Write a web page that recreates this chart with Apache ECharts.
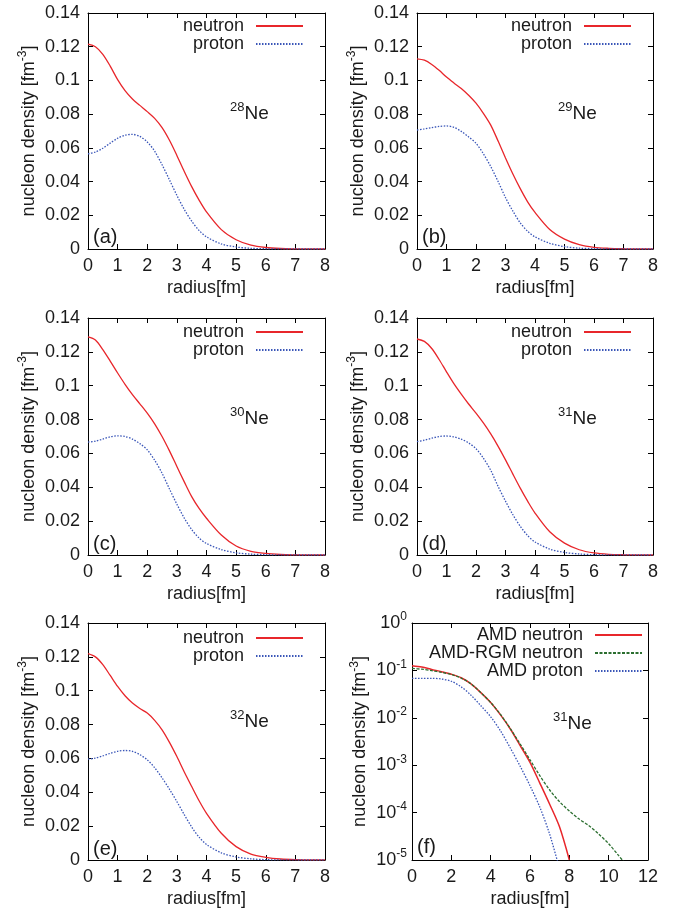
<!DOCTYPE html>
<html><head><meta charset="utf-8">
<script src="https://cdn.jsdelivr.net/npm/echarts@6/dist/echarts.min.js"></script>
<style>html,body{margin:0;padding:0;background:#fff}#c{width:687px;height:910px}</style>
</head><body><div id="c"></div>
<script>
// ---------- data ----------
const radius = [0,0.25,0.5,0.75,1,1.25,1.5,1.75,2,2.25,2.5,2.75,3,3.25,3.5,3.75,4,4.5,5,5.5,6,6.5,7,7.5,8];
const neutron28 = [0.1215,0.1200,0.1155,0.1085,0.1005,0.0940,0.0890,0.0852,0.0815,0.0775,0.0720,0.0645,0.0555,0.0460,0.0370,0.0290,0.0220,0.0115,0.0055,0.0023,0.0009,0.0003,0.0001,0.00003,0.00001];
const proton28  = [0.0565,0.0575,0.0598,0.0628,0.0657,0.0675,0.0680,0.0668,0.0635,0.0580,0.0500,0.0410,0.0318,0.0235,0.0165,0.0110,0.0072,0.0030,0.0012,0.0004,0.00015,0.00005,0.00002,0,0];
const neutron29 = [0.1128,0.1120,0.1095,0.1060,0.1020,0.0985,0.0952,0.0912,0.0865,0.0805,0.0735,0.0640,0.0540,0.0445,0.0358,0.0280,0.0217,0.0116,0.0059,0.0026,0.0010,0.0004,0.00015,0.00005,0.00002];
const proton29  = [0.0706,0.0712,0.0720,0.0727,0.0730,0.0722,0.0698,0.0665,0.0627,0.0565,0.0489,0.0400,0.0305,0.0225,0.0155,0.0105,0.0072,0.0034,0.0014,0.0005,0.0002,0.00006,0.00002,0,0];
const neutron30 = [0.1288,0.1270,0.1213,0.1145,0.1075,0.1008,0.0947,0.0893,0.0838,0.0775,0.0700,0.0615,0.0523,0.0432,0.0345,0.0275,0.0217,0.0118,0.0053,0.0022,0.0009,0.0003,0.0001,0.00003,0.00001];
const proton30  = [0.0667,0.0672,0.0685,0.0698,0.0704,0.0700,0.0685,0.0658,0.0621,0.0560,0.0483,0.0390,0.0300,0.0218,0.0150,0.0100,0.0068,0.0032,0.0013,0.0005,0.0002,0.00007,0.00002,0,0];
const neutron31 = [0.1276,0.1262,0.1220,0.1155,0.1082,0.1012,0.0950,0.0892,0.0838,0.0780,0.0715,0.0642,0.0562,0.0478,0.0395,0.0318,0.0248,0.0137,0.0070,0.0031,0.0012,0.0004,0.00015,0.00005,0.00001];
const proton31  = [0.0670,0.0678,0.0690,0.0700,0.0703,0.0698,0.0684,0.0662,0.0628,0.0572,0.0500,0.0405,0.0318,0.0238,0.0170,0.0115,0.0077,0.0035,0.0015,0.0006,0.0002,0.00008,0.00003,0.00001,0];
const neutron32 = [0.1219,0.1200,0.1154,0.1090,0.1025,0.0970,0.0927,0.0895,0.0868,0.0825,0.0769,0.0695,0.0611,0.0520,0.0434,0.0350,0.0276,0.0158,0.0079,0.0035,0.0016,0.0006,0.0002,0.00007,0.00002];
const proton32  = [0.0596,0.0602,0.0615,0.0630,0.0642,0.0647,0.0642,0.0622,0.0592,0.0545,0.0485,0.0418,0.0345,0.0268,0.0195,0.0135,0.0092,0.0042,0.0018,0.0007,0.0002,0.00007,0.00002,0,0];

// panel (f), 31Ne on a log scale
const radiusF = [0,0.5,1,1.5,2,2.5,3,3.5,4,4.5,5,5.5,6,6.5,7,7.5,8,8.5,9,9.5,10,10.5,11];
const amdNeutron = [0.126,0.118,0.105,0.094,0.083,0.070,0.052,0.034,0.021,0.0115,0.0058,0.0026,0.00115,0.00042,0.00015,0.00005,0.00001];
const rgmNeutron = [0.110,0.106,0.099,0.091,0.082,0.069,0.052,0.034,0.021,0.0118,0.0059,0.0028,0.00130,0.00060,0.00030,0.00017,0.000108,0.000073,0.000053,0.000035,0.000022,0.0000125,0.000007];
const amdProton  = [0.068,0.068,0.068,0.066,0.059,0.045,0.030,0.018,0.0105,0.0053,0.0023,0.00095,0.00037,0.00013,0.000035,0.0000065];

const isotopes = ['28','29','30','31','32','31'];
const tags = ['(a)','(b)','(c)','(d)','(e)','(f)'];
const linNames = ['neutron','proton'];
const logNames = ['AMD neutron','AMD-RGM neutron','AMD proton'];
const xLabel = 'radius[fm]';

// ---------- style / layout ----------
const FONT = '"Liberation Sans", Arial, Helvetica, sans-serif';
const TXT = '#1a1a1a';
const RED = '#e8262b', BLUE = '#3a56b8', GREEN = '#2b6e2f';
const layout = [
  {left:88, top:13, width:237, height:236, legR:383, legT:17, neX:230, neY:112, tagX:93, tagY:238},
  {left:417, top:13, width:236, height:236, legR:55, legT:17, neX:558, neY:112, tagX:422, tagY:238},
  {left:88, top:318, width:237, height:237, legR:383, legT:323, neX:230, neY:417, tagX:93, tagY:545},
  {left:417, top:318, width:236, height:237, legR:55, legT:323, neX:558, neY:417, tagX:422, tagY:545},
  {left:88, top:623, width:237, height:237, legR:383, legT:629, neX:230, neY:720, tagX:93, tagY:850},
  {left:412, top:623, width:236, height:237, legR:44, legT:626, neX:553, neY:722, tagX:417, tagY:848}
];
const linSets = [[neutron28,proton28],[neutron29,proton29],[neutron30,proton30],[neutron31,proton31],[neutron32,proton32]];

const grids = [], xAxes = [], yAxes = [], series = [], legends = [], graphics = [];
const lineAx = {show:true, onZero:false, lineStyle:{color:'#000', width:1}};
const tick = {show:true, inside:true, length:5, lineStyle:{color:'#000', width:1}};
const supRich = {s:{fontSize:12, fontFamily:FONT, color:TXT, verticalAlign:'top', lineHeight:12}};

layout.forEach((L, i) => {
  const isLog = i === 5;
  grids.push({left:L.left, top:L.top, width:L.width, height:L.height, containLabel:false});
  const xBase = {type:'value', gridIndex:i, min:0, max:isLog?12:8, interval:isLog?2:1, splitLine:{show:false}, axisLine:lineAx, axisTick:tick};
  xAxes.push(Object.assign({}, xBase, {position:'bottom',
    axisLabel:{color:TXT, fontSize:18, fontFamily:FONT, margin:8},
    name:xLabel, nameLocation:'middle', nameGap:30,
    nameTextStyle:{color:TXT, fontSize:18, fontFamily:FONT}}));
  xAxes.push(Object.assign({}, xBase, {position:'top', axisLabel:{show:false}}));
  const yBase = isLog
    ? {type:'log', logBase:10, gridIndex:i, min:0.00001, max:1, splitLine:{show:false}, axisLine:lineAx, axisTick:tick, minorTick:{show:false}}
    : {type:'value', gridIndex:i, min:0, max:0.14, interval:0.02, splitLine:{show:false}, axisLine:lineAx, axisTick:tick};
  const yLabel = isLog
    ? {color:TXT, fontSize:18, fontFamily:FONT, margin:5, lineHeight:24,
       formatter: v => '10{s|' + Math.round(Math.log10(v)) + '}', rich:supRich}
    : {color:TXT, fontSize:18, fontFamily:FONT, margin:8};
  yAxes.push(Object.assign({}, yBase, {position:'left', axisLabel:yLabel,
    name:'nucleon density [fm{s|-3}]', nameLocation:'middle', nameGap:isLog?38:42, nameRotate:90,
    nameTextStyle:{color:TXT, fontSize:18, fontFamily:FONT, lineHeight:24, rich:supRich}}));
  yAxes.push(Object.assign({}, yBase, {position:'right', axisLabel:{show:false}}));

  const common = {type:'line', xAxisIndex:2*i, yAxisIndex:2*i, symbol:'none', showSymbol:false,
    smooth:0.3, clip:true, animation:false, silent:true};
  if (!isLog) {
    const [n, p] = linSets[i];
    series.push(Object.assign({}, common, {name:linNames[0], data:radius.map((r,k)=>[r,n[k]]),
      lineStyle:{color:RED, width:1.3, type:'solid'}, itemStyle:{color:RED}}));
    series.push(Object.assign({}, common, {name:linNames[1], data:radius.map((r,k)=>[r,p[k]]),
      lineStyle:{color:BLUE, width:1.3, type:[1.5,1.5]}, itemStyle:{color:BLUE}}));
  } else {
    series.push(Object.assign({}, common, {name:logNames[0], data:amdNeutron.map((v,k)=>[radiusF[k],v]),
      lineStyle:{color:RED, width:1.5, type:'solid'}, itemStyle:{color:RED}}));
    series.push(Object.assign({}, common, {name:logNames[1], data:rgmNeutron.map((v,k)=>[radiusF[k],v]),
      lineStyle:{color:GREEN, width:1.3, type:[3,1.5]}, itemStyle:{color:GREEN}}));
    series.push(Object.assign({}, common, {name:logNames[2], data:amdProton.map((v,k)=>[radiusF[k],v]),
      lineStyle:{color:BLUE, width:1.3, type:[1.5,1.5]}, itemStyle:{color:BLUE}}));
  }
  legends.push({right:L.legR, top:L.legT, orient:'vertical', align:'right', padding:0,
    itemWidth:47, itemHeight:18, itemGap:0, selectedMode:false,
    itemStyle:{color:'rgba(0,0,0,0)', borderWidth:0, opacity:0},
    data: isLog ? logNames : linNames,
    textStyle:{color:TXT, fontSize:18, fontFamily:FONT, padding:[0,7,0,0]}});
  graphics.push({type:'text', left:L.neX, top:L.neY-11, silent:true,
    style:{text:'{s|' + isotopes[i] + '}{n|Ne}', fill:TXT,
      rich:{s:{fontSize:13, fontFamily:FONT, fill:TXT, verticalAlign:'top', lineHeight:13},
            n:{fontSize:19, fontFamily:FONT, fill:TXT, lineHeight:26}}}});
  graphics.push({type:'text', left:L.tagX, top:L.tagY-11, silent:true,
    style:{text:tags[i], fill:TXT, fontSize:20, fontFamily:FONT}});
});

const chart = echarts.init(document.getElementById('c'), null, {renderer:'canvas'});
chart.setOption({
  backgroundColor:'#fff', animation:false,
  grid:grids, xAxis:xAxes, yAxis:yAxes, series:series, legend:legends, graphic:graphics
});
</script></body></html>
